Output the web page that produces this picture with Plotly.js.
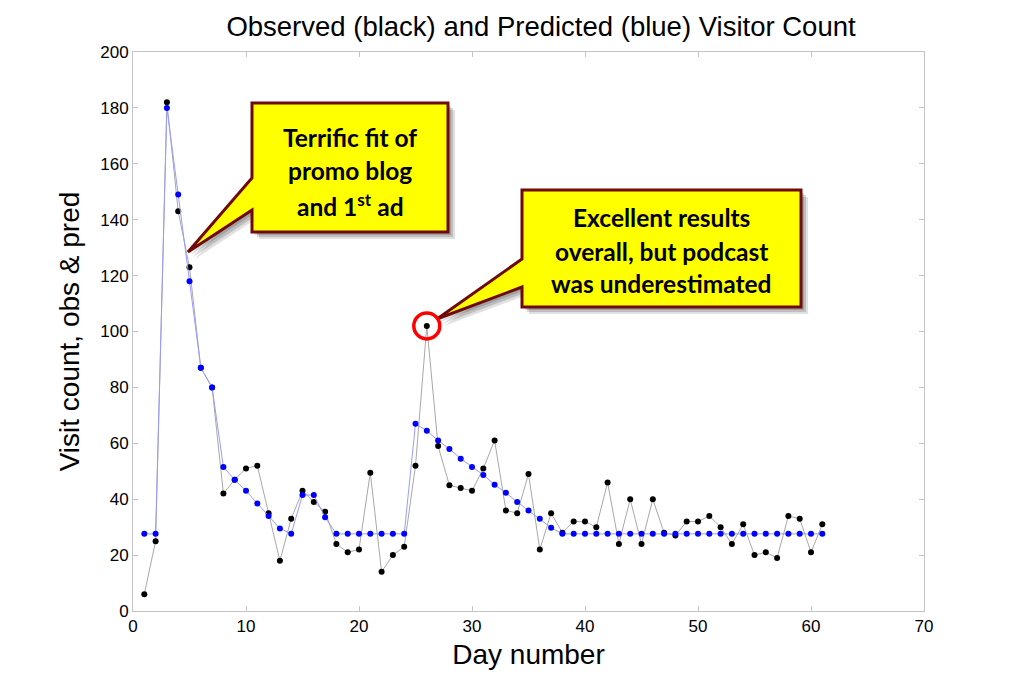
<!DOCTYPE html>
<html>
<head>
<meta charset="utf-8">
<script src="https://cdn.plot.ly/plotly-3.0.1.min.js"></script>
<style>html,body{margin:0;padding:0;background:#fff;}#chart{width:1024px;height:687px;}</style>
</head>
<body>
<div id="chart"></div>
<script>
// ---- data ----
const days = [1,2,3,4,5,6,7,8,9,10,11,12,13,14,15,16,17,18,19,20,21,22,23,24,25,26,27,28,29,30,
              31,32,33,34,35,36,37,38,39,40,41,42,43,44,45,46,47,48,49,50,51,52,53,54,55,56,57,58,59,60,61];
const observed = [6,25,182,143,123,87,80,42,47,51,52,35,18,33,43,39,35.5,24,21,22,
                  49.5,14,20,23,52,102,59,45,44,43,51,61,36,35,49,22,35,28,32,32,
                  30,46,24,40,24,40,28,27,32,32,34,30,24,31,20,21,19,34,33,21,31];
const predicted = [27.6,27.6,180,149,118,87,80,51.5,47,43,38.5,34,29.5,27.6,41.5,41.5,33.5,27.6,27.6,27.6,
                   27.6,27.6,27.6,27.6,67,64.5,61,58,54.5,51.5,48.7,45.2,42.3,39,36,33,29.8,27.6,27.6,27.6,
                   27.6,27.6,27.6,27.6,27.6,27.6,27.6,27.6,27.6,27.6,27.6,27.6,27.6,27.6,27.6,27.6,27.6,27.6,27.6,27.6,27.6];
const xTicks = [0,10,20,30,40,50,60,70];
const yTicks = [0,20,40,60,80,100,120,140,160,180,200];
const titleText = 'Observed (black) and Predicted (blue) Visitor Count';
const xTitle = 'Day number';
const yTitle = 'Visit count, obs &amp; pred';
const callout1 = ['Terrific fit of', 'promo blog', 'and 1<sup>st</sup> ad'];
const callout2 = ['Excellent results', 'overall, but podcast', 'was underestimated'];
const highlightIndex = 25; // day 26 observed peak

// ---- layout geometry (pixels of the 1024x687 page) ----
const W = 1024, H = 687;
const PL = 133, PR = 924, PT = 52, PB = 611;
const fx = p => (p - PL) / (PR - PL);
const fy = p => (PB - p) / (PB - PT);

function calloutPath(L, R, T, B, wTop, tipX, tipY, wBot, dx, dy) {
  dx = dx || 0; dy = dy || 0;
  const pts = [[L,T],[R,T],[R,B],[L,B],[L,wBot],[tipX,tipY],[L,wTop]];
  return 'M' + pts.map(p => fx(p[0]+dx).toFixed(5) + ',' + fy(p[1]+dy).toFixed(5)).join(' L') + ' Z';
}

const boxes = [
  {L:252, R:448, T:103, B:232, wTop:178, tipX:188, tipY:252, wBot:210, cx:350, lines:[137,171,205], text:callout1},
  {L:522, R:801, T:190, B:307, wTop:259, tipX:437, tipY:319, wBot:287, cx:661, lines:[218,251,283], text:callout2}
];

const shapes = [];
const annotations = [];
boxes.forEach(b => {
  [[7,7,0.12],[5,5,0.15],[3,3,0.15]].forEach(s => {
    shapes.push({type:'path', xref:'paper', yref:'paper', layer:'above',
      path: calloutPath(b.L,b.R,b.T,b.B,b.wTop,b.tipX,b.tipY,b.wBot,s[0],s[1]),
      fillcolor:'rgba(0,0,0,'+s[2]+')', line:{width:0}});
  });
  shapes.push({type:'path', xref:'paper', yref:'paper', layer:'above',
    path: calloutPath(b.L,b.R,b.T,b.B,b.wTop,b.tipX,b.tipY,b.wBot),
    fillcolor:'#ffff00', line:{color:'#6e0a0a', width:3}});
  b.text.forEach((t,i) => {
    annotations.push({xref:'paper', yref:'paper', x:fx(b.cx), y:fy(b.lines[i]),
      xanchor:'center', yanchor:'middle', showarrow:false,
      text:'<b>'+t+'</b>', font:{family:'Lato, "Open Sans", sans-serif', size:24.5, color:'#000'}});
  });
});

shapes.push({type:'circle', xref:'x', yref:'y', xsizemode:'pixel', ysizemode:'pixel',
  xanchor: days[highlightIndex], yanchor: observed[highlightIndex],
  x0:-13, x1:13, y0:-13, y1:13, line:{color:'#ff0000', width:3.5}, layer:'above'});

const traces = [
  {x:days, y:observed, type:'scatter', mode:'lines+markers', name:'Observed',
   line:{color:'#a8a8a8', width:1}, marker:{color:'#000000', size:6}},
  {x:days, y:predicted, type:'scatter', mode:'lines+markers', name:'Predicted',
   line:{color:'#9a9aff', width:1}, marker:{color:'#0000ff', size:6}}
];

const axisCommon = {
  showgrid:false, zeroline:false, showline:true, linecolor:'#c4c4c4', linewidth:1,
  mirror:'ticks', ticks:'inside', ticklen:5, tickcolor:'#c4c4c4', tickwidth:1,
  tickfont:{family:'Liberation Sans, Arial, sans-serif', size:17, color:'#000'}
};

const layout = {
  width:W, height:H,
  margin:{l:PL, r:W-PR, t:PT, b:H-PB, pad:0},
  paper_bgcolor:'#ffffff', plot_bgcolor:'#ffffff',
  showlegend:false,
  title:{text:titleText, xref:'paper', x:fx(541), xanchor:'center', yref:'container', y:1-26/H, yanchor:'middle',
         font:{family:'Liberation Sans, Arial, sans-serif', size:27.5, color:'#000'}},
  xaxis: Object.assign({}, axisCommon, {range:[0,70], tickvals:xTicks, ticktext:xTicks.map(String),
         title:{text:xTitle, standoff:8, font:{family:'Liberation Sans, Arial, sans-serif', size:28, color:'#000'}}}),
  yaxis: Object.assign({}, axisCommon, {range:[0,200], tickvals:yTicks, ticktext:yTicks.map(String),
         title:{text:yTitle, standoff:12, font:{family:'Liberation Sans, Arial, sans-serif', size:28, color:'#000'}}}),
  shapes: shapes,
  annotations: annotations
};

Plotly.newPlot('chart', traces, layout, {displayModeBar:false, staticPlot:true});
</script>
</body>
</html>
